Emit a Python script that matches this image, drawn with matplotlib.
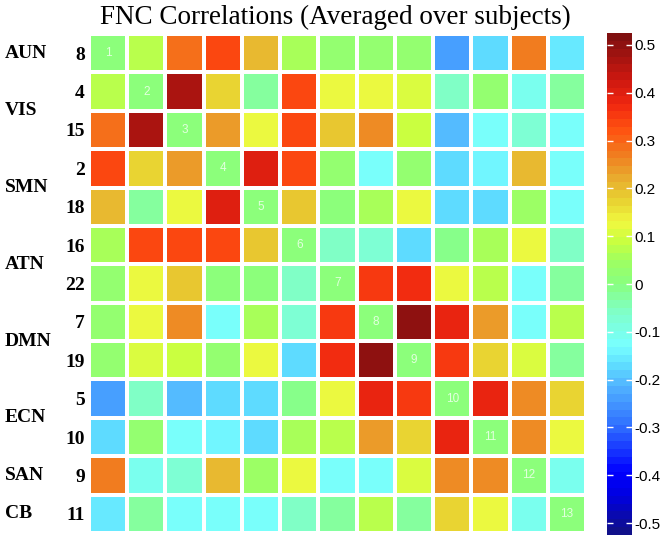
import numpy as np
import matplotlib
matplotlib.use("Agg")
import matplotlib.pyplot as plt
from matplotlib.colors import LinearSegmentedColormap
import matplotlib.transforms as mtransforms

title = "FNC Correlations (Averaged over subjects)"
components = ["8", "4", "15", "2", "18", "16", "22", "7", "19", "5", "10", "9", "11"]
networks = ["AUN", "VIS", "SMN", "ATN", "DMN", "ECN", "SAN", "CB"]
network_sizes = [1, 2, 2, 2, 2, 2, 1, 1]
diag_labels = [str(i) for i in range(1, 14)]
cbar_ticks = [-0.5, -0.4, -0.3, -0.2, -0.1, 0, 0.1, 0.2, 0.3, 0.4, 0.5]
cbar_labels = ["-0.5", "-0.4", "-0.3", "-0.2", "-0.1", "0", "0.1", "0.2", "0.3", "0.4", "0.5"]
vlim = 0.525

fnc = [
    [0.00, 0.08, 0.28, 0.33, 0.20, 0.05, 0.02, 0.02, 0.02, -0.24, -0.17, 0.27, -0.16],
    [0.08, 0.00, 0.47, 0.18, -0.02, 0.33, 0.13, 0.12, 0.11, -0.05, 0.03, -0.10, -0.03],
    [0.28, 0.47, 0.00, 0.24, 0.13, 0.34, 0.19, 0.25, 0.09, -0.20, -0.13, -0.08, -0.13],
    [0.33, 0.18, 0.24, 0.00, 0.40, 0.34, 0.02, -0.13, 0.02, -0.18, -0.14, 0.20, -0.13],
    [0.20, -0.02, 0.13, 0.40, 0.00, 0.19, 0.01, 0.06, 0.13, -0.17, -0.18, 0.04, -0.13],
    [0.05, 0.33, 0.34, 0.34, 0.19, 0.00, -0.06, -0.07, -0.18, -0.01, 0.05, 0.12, -0.05],
    [0.02, 0.13, 0.19, 0.01, 0.00, -0.06, 0.00, 0.35, 0.37, 0.13, 0.07, -0.12, -0.02],
    [0.02, 0.12, 0.25, -0.13, 0.06, -0.07, 0.35, 0.00, 0.50, 0.38, 0.24, -0.12, 0.07],
    [0.02, 0.11, 0.09, 0.02, 0.13, -0.18, 0.37, 0.50, 0.00, 0.35, 0.18, 0.11, -0.03],
    [-0.24, -0.05, -0.20, -0.18, -0.17, -0.01, 0.13, 0.38, 0.35, 0.00, 0.39, 0.26, 0.17],
    [-0.17, 0.03, -0.13, -0.14, -0.18, 0.05, 0.07, 0.24, 0.18, 0.39, 0.00, 0.25, 0.13],
    [0.27, -0.10, -0.08, 0.20, 0.04, 0.12, -0.12, -0.12, 0.11, 0.26, 0.25, 0.00, -0.10],
    [-0.16, -0.03, -0.13, -0.13, -0.13, -0.05, -0.02, 0.07, -0.03, 0.17, 0.13, -0.10, 0.00],
]

# light jet-like colour scale as seen in the reference colour bar
cmap_values = [-0.525, -0.45, -0.4, -0.3, -0.22, -0.17, -0.13, -0.06, 0.0, 0.05,
               0.09, 0.13, 0.18, 0.22, 0.27, 0.33, 0.38, 0.43, 0.525]
cmap_colors = ["#10108a", "#0000e0", "#0000ff", "#3070ff", "#50b0ff", "#60e0ff",
               "#78ffff", "#80ffc8", "#88ff80", "#a0ff60", "#c8ff40", "#f0f840",
               "#e8d030", "#e8b030", "#f08020", "#ff5010", "#f02810", "#d01810",
               "#801010"]

data = np.array(fnc)
n = len(components)

pos = [(v + vlim) / (2 * vlim) for v in cmap_values]
cmap = LinearSegmentedColormap.from_list("fnc", list(zip(pos, cmap_colors)), N=64)

fig = plt.figure(figsize=(6.7, 5.38), dpi=100)
ax = fig.add_axes([89 / 670, 1 - 533 / 538, (586 - 89) / 670, (533 - 34) / 538])
cax = fig.add_axes([607 / 670, 1 - 535 / 538, 25 / 670, (535 - 33) / 538])

mesh = ax.pcolormesh(np.arange(n + 1), np.arange(n + 1), data, cmap=cmap,
                     vmin=-vlim, vmax=vlim, edgecolors="white", linewidth=1.6)
ax.set_xlim(0, n)
ax.set_ylim(n, 0)
for s in ax.spines.values():
    s.set_visible(False)
ax.set_xticks([])
ax.set_yticks(np.arange(n) + 0.5)
ax.set_yticklabels(components, family="Liberation Serif", fontsize=14, fontweight="bold")
ax.tick_params(axis="y", length=0, pad=3)

for i, lab in enumerate(diag_labels):
    ax.text(i + 0.5, i + 0.5, lab, color="white", alpha=0.75, ha="center",
            va="center", fontsize=8.5, family="Liberation Sans")

trans = mtransforms.blended_transform_factory(fig.transFigure, ax.transData)
start = 0
for name, size in zip(networks, network_sizes):
    center = start + size / 2
    ax.text(5 / 670, center, name, ha="left", va="center", family="Liberation Serif",
            fontsize=14, fontweight="bold", transform=trans)
    start += size

cb = fig.colorbar(mesh, cax=cax, ticks=cbar_ticks)
cb.outline.set_visible(False)
cb.ax.tick_params(direction="in", color="white", length=4, width=1,
                  left=True, right=True, labelsize=11, pad=2)
cb.ax.set_yticklabels(cbar_labels, family="Liberation Sans")

fig.text(0.5, 1 - 17 / 538, title, ha="center", va="center",
         family="Liberation Serif", fontsize=19.5)

fig.savefig("out.png", dpi=100)
